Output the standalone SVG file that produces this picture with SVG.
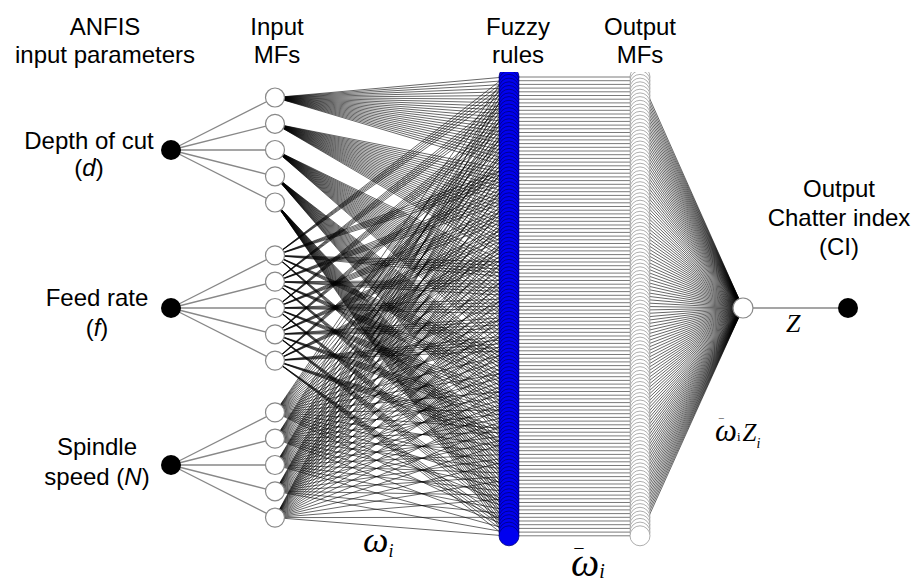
<svg xmlns="http://www.w3.org/2000/svg" width="924" height="584" viewBox="0 0 924 584">
<style>
  .lbl{font-family:"Liberation Sans",Arial,sans-serif;font-size:24px;fill:#000;text-anchor:middle}
  .math{font-family:"Liberation Serif","Times New Roman",serif;font-style:italic;fill:#000}
  .wire{fill:none;stroke:#000;stroke-width:0.6}
  .hline{fill:none;stroke:#7a7a7a;stroke-width:1}
  .edge{fill:none;stroke:#888;stroke-width:1.3}
  .mf{fill:#fff;stroke:#888;stroke-width:1.2}
  .inp{fill:#000}
  .rule{fill:#0000f0;stroke:#00007a;stroke-width:0.8}
  .omf{fill:#fff;stroke:#999;stroke-width:0.8}
</style>
<defs>
  <!-- rule node and output MF node, stacked 125 times at 3.7 px pitch -->
  <circle id="rc" class="rule" cx="509" cy="77" r="10"/>
  <g id="rc5"><use href="#rc"/><use href="#rc" y="3.7"/><use href="#rc" y="7.4"/><use href="#rc" y="11.1"/><use href="#rc" y="14.8"/></g>
  <g id="rc25"><use href="#rc5"/><use href="#rc5" y="18.5"/><use href="#rc5" y="37"/><use href="#rc5" y="55.5"/><use href="#rc5" y="74"/></g>
  <circle id="oc" class="omf" cx="640" cy="77" r="10"/>
  <g id="oc5"><use href="#oc"/><use href="#oc" y="3.7"/><use href="#oc" y="7.4"/><use href="#oc" y="11.1"/><use href="#oc" y="14.8"/></g>
  <g id="oc25"><use href="#oc5"/><use href="#oc5" y="18.5"/><use href="#oc5" y="37"/><use href="#oc5" y="55.5"/><use href="#oc5" y="74"/></g>
  <clipPath id="colclip"><rect x="480" y="72" width="200" height="500"/></clipPath>
</defs>

<!-- labels -->
<g id="labels">
  <text class="lbl" x="105" y="35">ANFIS</text>
  <text class="lbl" x="105" y="63">input parameters</text>
  <text class="lbl" x="277" y="35">Input</text>
  <text class="lbl" x="277" y="63">MFs</text>
  <text class="lbl" x="518" y="35">Fuzzy</text>
  <text class="lbl" x="518" y="63">rules</text>
  <text class="lbl" x="640" y="35">Output</text>
  <text class="lbl" x="640" y="63">MFs</text>
  <text class="lbl" x="89" y="149">Depth of cut</text>
  <text class="lbl" x="89" y="176">(<tspan font-style="italic">d</tspan>)</text>
  <text class="lbl" x="97" y="306">Feed rate</text>
  <text class="lbl" x="97" y="336">(<tspan font-style="italic">f</tspan>)</text>
  <text class="lbl" x="97" y="455">Spindle</text>
  <text class="lbl" x="97" y="485">speed (<tspan font-style="italic">N</tspan>)</text>
  <text class="lbl" x="839" y="197">Output</text>
  <text class="lbl" x="839" y="226">Chatter index</text>
  <text class="lbl" x="839" y="255">(CI)</text>
  <text class="math" x="363" y="552" font-size="36">ω<tspan font-size="18" dy="5">i</tspan></text>
  <text class="math" x="573" y="562" font-size="18" font-style="normal">¯</text>
  <text class="math" x="571" y="576" font-size="40">ω<tspan font-size="20" dy="2">i</tspan></text>
  <text class="math" x="786" y="332" font-size="26">Z</text>
  <text class="math" x="718" y="426" font-size="10" font-style="normal">¯</text>
  <text class="math" x="715" y="441" font-size="31">ω<tspan font-size="13" font-style="normal">i</tspan><tspan dx="2" font-size="25">Z</tspan><tspan font-size="14" dy="7">i</tspan></text>
</g>

<!-- connectors -->
<g id="connectors">
  <path class="edge" d="M171 150L275 97.5M171 150L275 123.8M171 150L275 150M171 150L275 176.3M171 150L275 202.5M171 308L275 255.4M171 308L275 281.7M171 308L275 308M171 308L275 334.3M171 308L275 360.6M171 465L275 412.4M171 465L275 438.7M171 465L275 465M171 465L275 491.3M171 465L275 517.6M743 308L848 308"/>
  <!-- rule-index space: y = 77 + 3.7 * index -->
  <g transform="matrix(1 0 0 3.7 0 77)">
    <path class="hline" vector-effect="non-scaling-stroke" d="M509 0H640M509 1H640M509 2H640M509 3H640M509 4H640M509 5H640M509 6H640M509 7H640M509 8H640M509 9H640M509 10H640M509 11H640M509 12H640M509 13H640M509 14H640M509 15H640M509 16H640M509 17H640M509 18H640M509 19H640M509 20H640M509 21H640M509 22H640M509 23H640M509 24H640M509 25H640M509 26H640M509 27H640M509 28H640M509 29H640M509 30H640M509 31H640M509 32H640M509 33H640M509 34H640M509 35H640M509 36H640M509 37H640M509 38H640M509 39H640M509 40H640M509 41H640M509 42H640M509 43H640M509 44H640M509 45H640M509 46H640M509 47H640M509 48H640M509 49H640M509 50H640M509 51H640M509 52H640M509 53H640M509 54H640M509 55H640M509 56H640M509 57H640M509 58H640M509 59H640M509 60H640M509 61H640M509 62H640M509 63H640M509 64H640M509 65H640M509 66H640M509 67H640M509 68H640M509 69H640M509 70H640M509 71H640M509 72H640M509 73H640M509 74H640M509 75H640M509 76H640M509 77H640M509 78H640M509 79H640M509 80H640M509 81H640M509 82H640M509 83H640M509 84H640M509 85H640M509 86H640M509 87H640M509 88H640M509 89H640M509 90H640M509 91H640M509 92H640M509 93H640M509 94H640M509 95H640M509 96H640M509 97H640M509 98H640M509 99H640M509 100H640M509 101H640M509 102H640M509 103H640M509 104H640M509 105H640M509 106H640M509 107H640M509 108H640M509 109H640M509 110H640M509 111H640M509 112H640M509 113H640M509 114H640M509 115H640M509 116H640M509 117H640M509 118H640M509 119H640M509 120H640M509 121H640M509 122H640M509 123H640M509 124H640"/>
    <!-- input 1 (depth of cut): each MF feeds 25 consecutive rules -->
    <path class="wire" vector-effect="non-scaling-stroke" d="M275 5.54 505 0M275 5.54 505 1M275 5.54 505 2M275 5.54 505 3M275 5.54 505 4M275 5.54 505 5M275 5.54 505 6M275 5.54 505 7M275 5.54 505 8M275 5.54 505 9M275 5.54 505 10M275 5.54 505 11M275 5.54 505 12M275 5.54 505 13M275 5.54 505 14M275 5.54 505 15M275 5.54 505 16M275 5.54 505 17M275 5.54 505 18M275 5.54 505 19M275 5.54 505 20M275 5.54 505 21M275 5.54 505 22M275 5.54 505 23M275 5.54 505 24"/>
    <path class="wire" vector-effect="non-scaling-stroke" d="M275 12.65 505 25M275 12.65 505 26M275 12.65 505 27M275 12.65 505 28M275 12.65 505 29M275 12.65 505 30M275 12.65 505 31M275 12.65 505 32M275 12.65 505 33M275 12.65 505 34M275 12.65 505 35M275 12.65 505 36M275 12.65 505 37M275 12.65 505 38M275 12.65 505 39M275 12.65 505 40M275 12.65 505 41M275 12.65 505 42M275 12.65 505 43M275 12.65 505 44M275 12.65 505 45M275 12.65 505 46M275 12.65 505 47M275 12.65 505 48M275 12.65 505 49"/>
    <path class="wire" vector-effect="non-scaling-stroke" d="M275 19.73 505 50M275 19.73 505 51M275 19.73 505 52M275 19.73 505 53M275 19.73 505 54M275 19.73 505 55M275 19.73 505 56M275 19.73 505 57M275 19.73 505 58M275 19.73 505 59M275 19.73 505 60M275 19.73 505 61M275 19.73 505 62M275 19.73 505 63M275 19.73 505 64M275 19.73 505 65M275 19.73 505 66M275 19.73 505 67M275 19.73 505 68M275 19.73 505 69M275 19.73 505 70M275 19.73 505 71M275 19.73 505 72M275 19.73 505 73M275 19.73 505 74"/>
    <path class="wire" vector-effect="non-scaling-stroke" d="M275 26.84 505 75M275 26.84 505 76M275 26.84 505 77M275 26.84 505 78M275 26.84 505 79M275 26.84 505 80M275 26.84 505 81M275 26.84 505 82M275 26.84 505 83M275 26.84 505 84M275 26.84 505 85M275 26.84 505 86M275 26.84 505 87M275 26.84 505 88M275 26.84 505 89M275 26.84 505 90M275 26.84 505 91M275 26.84 505 92M275 26.84 505 93M275 26.84 505 94M275 26.84 505 95M275 26.84 505 96M275 26.84 505 97M275 26.84 505 98M275 26.84 505 99"/>
    <path class="wire" vector-effect="non-scaling-stroke" d="M275 33.92 505 100M275 33.92 505 101M275 33.92 505 102M275 33.92 505 103M275 33.92 505 104M275 33.92 505 105M275 33.92 505 106M275 33.92 505 107M275 33.92 505 108M275 33.92 505 109M275 33.92 505 110M275 33.92 505 111M275 33.92 505 112M275 33.92 505 113M275 33.92 505 114M275 33.92 505 115M275 33.92 505 116M275 33.92 505 117M275 33.92 505 118M275 33.92 505 119M275 33.92 505 120M275 33.92 505 121M275 33.92 505 122M275 33.92 505 123M275 33.92 505 124"/>
    <!-- input 2 (feed rate): each MF feeds 5 blocks of 5 rules -->
    <path class="wire" vector-effect="non-scaling-stroke" d="M275 48.22 505 0M275 48.22 505 1M275 48.22 505 2M275 48.22 505 3M275 48.22 505 4M275 48.22 505 25M275 48.22 505 26M275 48.22 505 27M275 48.22 505 28M275 48.22 505 29M275 48.22 505 50M275 48.22 505 51M275 48.22 505 52M275 48.22 505 53M275 48.22 505 54M275 48.22 505 75M275 48.22 505 76M275 48.22 505 77M275 48.22 505 78M275 48.22 505 79M275 48.22 505 100M275 48.22 505 101M275 48.22 505 102M275 48.22 505 103M275 48.22 505 104"/>
    <path class="wire" vector-effect="non-scaling-stroke" d="M275 55.32 505 5M275 55.32 505 6M275 55.32 505 7M275 55.32 505 8M275 55.32 505 9M275 55.32 505 30M275 55.32 505 31M275 55.32 505 32M275 55.32 505 33M275 55.32 505 34M275 55.32 505 55M275 55.32 505 56M275 55.32 505 57M275 55.32 505 58M275 55.32 505 59M275 55.32 505 80M275 55.32 505 81M275 55.32 505 82M275 55.32 505 83M275 55.32 505 84M275 55.32 505 105M275 55.32 505 106M275 55.32 505 107M275 55.32 505 108M275 55.32 505 109"/>
    <path class="wire" vector-effect="non-scaling-stroke" d="M275 62.43 505 10M275 62.43 505 11M275 62.43 505 12M275 62.43 505 13M275 62.43 505 14M275 62.43 505 35M275 62.43 505 36M275 62.43 505 37M275 62.43 505 38M275 62.43 505 39M275 62.43 505 60M275 62.43 505 61M275 62.43 505 62M275 62.43 505 63M275 62.43 505 64M275 62.43 505 85M275 62.43 505 86M275 62.43 505 87M275 62.43 505 88M275 62.43 505 89M275 62.43 505 110M275 62.43 505 111M275 62.43 505 112M275 62.43 505 113M275 62.43 505 114"/>
    <path class="wire" vector-effect="non-scaling-stroke" d="M275 69.54 505 15M275 69.54 505 16M275 69.54 505 17M275 69.54 505 18M275 69.54 505 19M275 69.54 505 40M275 69.54 505 41M275 69.54 505 42M275 69.54 505 43M275 69.54 505 44M275 69.54 505 65M275 69.54 505 66M275 69.54 505 67M275 69.54 505 68M275 69.54 505 69M275 69.54 505 90M275 69.54 505 91M275 69.54 505 92M275 69.54 505 93M275 69.54 505 94M275 69.54 505 115M275 69.54 505 116M275 69.54 505 117M275 69.54 505 118M275 69.54 505 119"/>
    <path class="wire" vector-effect="non-scaling-stroke" d="M275 76.65 505 20M275 76.65 505 21M275 76.65 505 22M275 76.65 505 23M275 76.65 505 24M275 76.65 505 45M275 76.65 505 46M275 76.65 505 47M275 76.65 505 48M275 76.65 505 49M275 76.65 505 70M275 76.65 505 71M275 76.65 505 72M275 76.65 505 73M275 76.65 505 74M275 76.65 505 95M275 76.65 505 96M275 76.65 505 97M275 76.65 505 98M275 76.65 505 99M275 76.65 505 120M275 76.65 505 121M275 76.65 505 122M275 76.65 505 123M275 76.65 505 124"/>
    <!-- input 3 (spindle speed): each MF feeds every fifth rule -->
    <path class="wire" vector-effect="non-scaling-stroke" d="M275 90.65 505 0M275 90.65 505 5M275 90.65 505 10M275 90.65 505 15M275 90.65 505 20M275 90.65 505 25M275 90.65 505 30M275 90.65 505 35M275 90.65 505 40M275 90.65 505 45M275 90.65 505 50M275 90.65 505 55M275 90.65 505 60M275 90.65 505 65M275 90.65 505 70M275 90.65 505 75M275 90.65 505 80M275 90.65 505 85M275 90.65 505 90M275 90.65 505 95M275 90.65 505 100M275 90.65 505 105M275 90.65 505 110M275 90.65 505 115M275 90.65 505 120"/>
    <path class="wire" vector-effect="non-scaling-stroke" d="M275 97.76 505 1M275 97.76 505 6M275 97.76 505 11M275 97.76 505 16M275 97.76 505 21M275 97.76 505 26M275 97.76 505 31M275 97.76 505 36M275 97.76 505 41M275 97.76 505 46M275 97.76 505 51M275 97.76 505 56M275 97.76 505 61M275 97.76 505 66M275 97.76 505 71M275 97.76 505 76M275 97.76 505 81M275 97.76 505 86M275 97.76 505 91M275 97.76 505 96M275 97.76 505 101M275 97.76 505 106M275 97.76 505 111M275 97.76 505 116M275 97.76 505 121"/>
    <path class="wire" vector-effect="non-scaling-stroke" d="M275 104.86 505 2M275 104.86 505 7M275 104.86 505 12M275 104.86 505 17M275 104.86 505 22M275 104.86 505 27M275 104.86 505 32M275 104.86 505 37M275 104.86 505 42M275 104.86 505 47M275 104.86 505 52M275 104.86 505 57M275 104.86 505 62M275 104.86 505 67M275 104.86 505 72M275 104.86 505 77M275 104.86 505 82M275 104.86 505 87M275 104.86 505 92M275 104.86 505 97M275 104.86 505 102M275 104.86 505 107M275 104.86 505 112M275 104.86 505 117M275 104.86 505 122"/>
    <path class="wire" vector-effect="non-scaling-stroke" d="M275 111.97 505 3M275 111.97 505 8M275 111.97 505 13M275 111.97 505 18M275 111.97 505 23M275 111.97 505 28M275 111.97 505 33M275 111.97 505 38M275 111.97 505 43M275 111.97 505 48M275 111.97 505 53M275 111.97 505 58M275 111.97 505 63M275 111.97 505 68M275 111.97 505 73M275 111.97 505 78M275 111.97 505 83M275 111.97 505 88M275 111.97 505 93M275 111.97 505 98M275 111.97 505 103M275 111.97 505 108M275 111.97 505 113M275 111.97 505 118M275 111.97 505 123"/>
    <path class="wire" vector-effect="non-scaling-stroke" d="M275 119.08 505 4M275 119.08 505 9M275 119.08 505 14M275 119.08 505 19M275 119.08 505 24M275 119.08 505 29M275 119.08 505 34M275 119.08 505 39M275 119.08 505 44M275 119.08 505 49M275 119.08 505 54M275 119.08 505 59M275 119.08 505 64M275 119.08 505 69M275 119.08 505 74M275 119.08 505 79M275 119.08 505 84M275 119.08 505 89M275 119.08 505 94M275 119.08 505 99M275 119.08 505 104M275 119.08 505 109M275 119.08 505 114M275 119.08 505 119M275 119.08 505 124"/>
    <!-- output MFs to summation node -->
    <path class="wire" vector-effect="non-scaling-stroke" d="M640 0 743 62.43M640 1 743 62.43M640 2 743 62.43M640 3 743 62.43M640 4 743 62.43M640 5 743 62.43M640 6 743 62.43M640 7 743 62.43M640 8 743 62.43M640 9 743 62.43M640 10 743 62.43M640 11 743 62.43M640 12 743 62.43M640 13 743 62.43M640 14 743 62.43M640 15 743 62.43M640 16 743 62.43M640 17 743 62.43M640 18 743 62.43M640 19 743 62.43M640 20 743 62.43M640 21 743 62.43M640 22 743 62.43M640 23 743 62.43M640 24 743 62.43M640 25 743 62.43M640 26 743 62.43M640 27 743 62.43M640 28 743 62.43M640 29 743 62.43M640 30 743 62.43M640 31 743 62.43M640 32 743 62.43M640 33 743 62.43M640 34 743 62.43M640 35 743 62.43M640 36 743 62.43M640 37 743 62.43M640 38 743 62.43M640 39 743 62.43M640 40 743 62.43M640 41 743 62.43M640 42 743 62.43M640 43 743 62.43M640 44 743 62.43M640 45 743 62.43M640 46 743 62.43M640 47 743 62.43M640 48 743 62.43M640 49 743 62.43M640 50 743 62.43M640 51 743 62.43M640 52 743 62.43M640 53 743 62.43M640 54 743 62.43M640 55 743 62.43M640 56 743 62.43M640 57 743 62.43M640 58 743 62.43M640 59 743 62.43M640 60 743 62.43M640 61 743 62.43M640 62 743 62.43M640 63 743 62.43M640 64 743 62.43M640 65 743 62.43M640 66 743 62.43M640 67 743 62.43M640 68 743 62.43M640 69 743 62.43M640 70 743 62.43M640 71 743 62.43M640 72 743 62.43M640 73 743 62.43M640 74 743 62.43M640 75 743 62.43M640 76 743 62.43M640 77 743 62.43M640 78 743 62.43M640 79 743 62.43M640 80 743 62.43M640 81 743 62.43M640 82 743 62.43M640 83 743 62.43M640 84 743 62.43M640 85 743 62.43M640 86 743 62.43M640 87 743 62.43M640 88 743 62.43M640 89 743 62.43M640 90 743 62.43M640 91 743 62.43M640 92 743 62.43M640 93 743 62.43M640 94 743 62.43M640 95 743 62.43M640 96 743 62.43M640 97 743 62.43M640 98 743 62.43M640 99 743 62.43M640 100 743 62.43M640 101 743 62.43M640 102 743 62.43M640 103 743 62.43M640 104 743 62.43M640 105 743 62.43M640 106 743 62.43M640 107 743 62.43M640 108 743 62.43M640 109 743 62.43M640 110 743 62.43M640 111 743 62.43M640 112 743 62.43M640 113 743 62.43M640 114 743 62.43M640 115 743 62.43M640 116 743 62.43M640 117 743 62.43M640 118 743 62.43M640 119 743 62.43M640 120 743 62.43M640 121 743 62.43M640 122 743 62.43M640 123 743 62.43M640 124 743 62.43"/>
  </g>
</g>

<!-- input nodes -->
<g id="in-d"><circle class="inp" cx="171" cy="150" r="10"/></g>
<g id="in-f"><circle class="inp" cx="171" cy="308" r="10"/></g>
<g id="in-N"><circle class="inp" cx="171" cy="465" r="10"/></g>

<!-- input membership functions -->
<g id="mf-d1"><circle class="mf" cx="275" cy="97.5" r="9.5"/></g>
<g id="mf-d2"><circle class="mf" cx="275" cy="123.8" r="9.5"/></g>
<g id="mf-d3"><circle class="mf" cx="275" cy="150" r="9.5"/></g>
<g id="mf-d4"><circle class="mf" cx="275" cy="176.3" r="9.5"/></g>
<g id="mf-d5"><circle class="mf" cx="275" cy="202.5" r="9.5"/></g>
<g id="mf-f1"><circle class="mf" cx="275" cy="255.4" r="9.5"/></g>
<g id="mf-f2"><circle class="mf" cx="275" cy="281.7" r="9.5"/></g>
<g id="mf-f3"><circle class="mf" cx="275" cy="308" r="9.5"/></g>
<g id="mf-f4"><circle class="mf" cx="275" cy="334.3" r="9.5"/></g>
<g id="mf-f5"><circle class="mf" cx="275" cy="360.6" r="9.5"/></g>
<g id="mf-N1"><circle class="mf" cx="275" cy="412.4" r="9.5"/></g>
<g id="mf-N2"><circle class="mf" cx="275" cy="438.7" r="9.5"/></g>
<g id="mf-N3"><circle class="mf" cx="275" cy="465" r="9.5"/></g>
<g id="mf-N4"><circle class="mf" cx="275" cy="491.3" r="9.5"/></g>
<g id="mf-N5"><circle class="mf" cx="275" cy="517.6" r="9.5"/></g>

<!-- 125 fuzzy rule nodes -->
<g id="rule-nodes" clip-path="url(#colclip)"><use href="#rc25"/><use href="#rc25" y="92.5"/><use href="#rc25" y="185"/><use href="#rc25" y="277.5"/><use href="#rc25" y="370"/></g>

<!-- 125 output membership function nodes -->
<g id="output-mfs" clip-path="url(#colclip)"><use href="#oc25"/><use href="#oc25" y="92.5"/><use href="#oc25" y="185"/><use href="#oc25" y="277.5"/><use href="#oc25" y="370"/></g>

<!-- summation and output -->
<g id="sum-node"><circle class="mf" cx="743" cy="308" r="10"/></g>
<g id="out-node"><circle class="inp" cx="848" cy="308" r="10"/></g>
</svg>
